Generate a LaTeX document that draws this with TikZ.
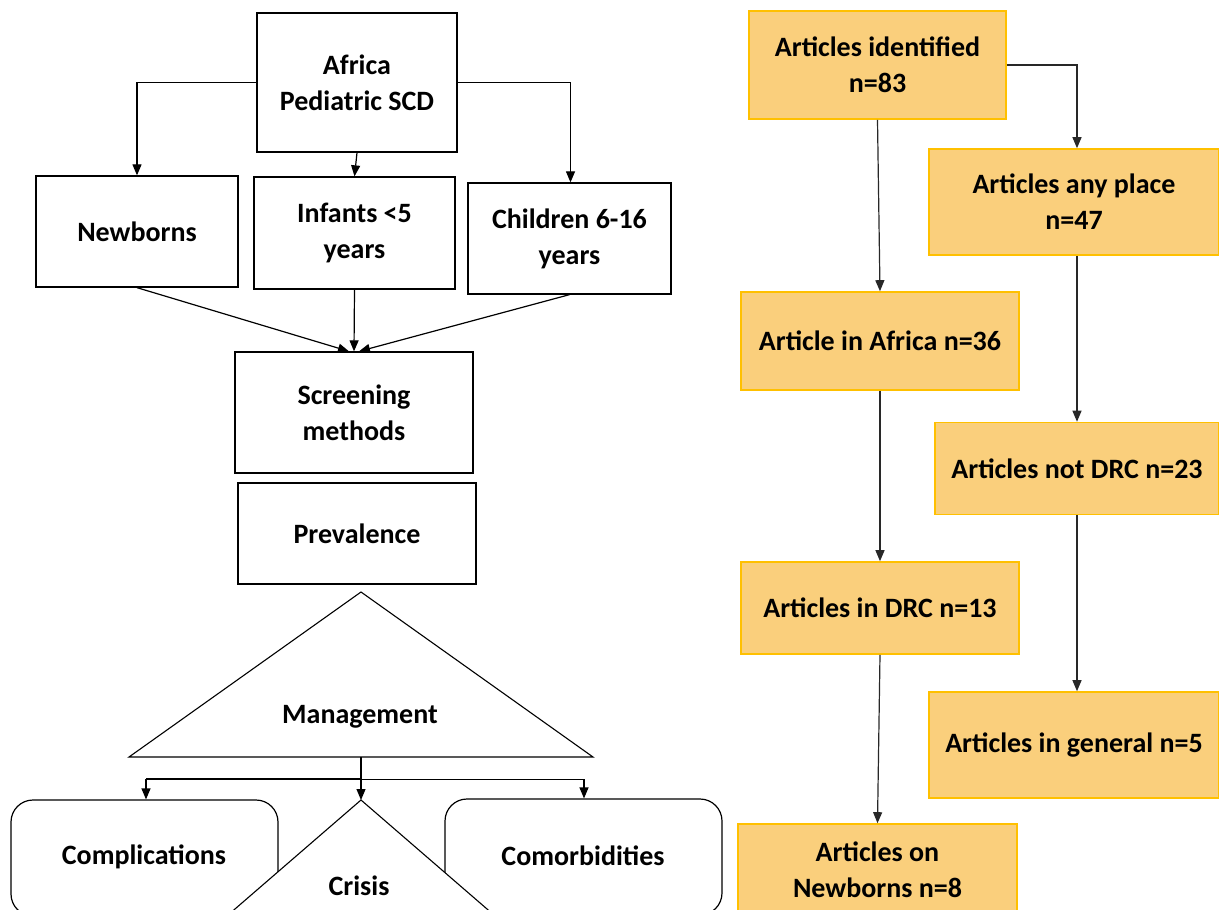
\documentclass[tikz,border=0pt]{standalone}
\usepackage{fontspec}
\setmainfont{Carlito}
\usetikzlibrary{arrows.meta}
\definecolor{boxfill}{RGB}{250,207,124}
\definecolor{boxline}{RGB}{255,192,0}
\definecolor{arrgray}{RGB}{40,40,40}
\begin{document}
\begin{tikzpicture}[x=1pt,y=-1pt,
  every node/.style={font=\fontsize{28}{36}\selectfont\bfseries, align=center, inner sep=0pt},
  wbox/.style={draw=black, line width=1.3pt, fill=white},
  rbox/.style={draw=black, line width=1.2pt, fill=white, rounded corners=22pt},
  obox/.style={draw=boxline, line width=1.6pt, fill=boxfill},
  arr/.style={line width=1.2pt, -{Triangle[length=11pt,width=9pt]}},
  garr/.style={arr, draw=arrgray},
]
\useasboundingbox (0,0) rectangle (1219,910);
\clip (0,0) rectangle (1219,910);
\fill[white] (0,0) rectangle (1219,910);

% ---------- left diagram ----------
\node[wbox, minimum width=200pt, minimum height=139pt] (africa) at (357,82.5) {Africa\\Pediatric SCD};
\node[wbox, minimum width=202pt, minimum height=111pt] (newb) at (137,231.5) {Newborns};
\node[wbox, minimum width=201pt, minimum height=112pt] (inf) at (354.5,233) {Infants <5\\years};
\node[wbox, minimum width=203pt, minimum height=111pt] (child) at (569.5,238.5) {Children 6-16\\years};
\node[wbox, minimum width=238pt, minimum height=121pt] (screen) at (354,412.5) {Screening\\methods};
\node[wbox, minimum width=238pt, minimum height=101pt] (prev) at (357,533.5) {Prevalence};

\coordinate (mA) at (361,592);
\coordinate (mL) at (129,757);
\coordinate (mR) at (593,757);
\draw[line width=1.1pt, fill=white, line join=miter] (mA) -- (mL) -- (mR) -- cycle;
\node (mgmt) at (360,717) {Management};

\node[rbox, minimum width=267pt, minimum height=116pt] (compl) at (144.5,858) {};
\node[rbox, minimum width=277pt, minimum height=116pt] (comor) at (583.5,857) {};
\node at (144,857) {Complications};
\node at (583,856) {Comorbidities};

\coordinate (cA) at (361,800);
\coordinate (cL) at (176,960);
\coordinate (cR) at (546,960);
\draw[line width=1.1pt, fill=white] (cL) -- (cA) -- (cR);
\node (crisis) at (359,886) {Crisis};

% connectors left
\coordinate (jB) at (361,757);
\coordinate (jM) at (361,779);
\coordinate (jL) at (146,779);
\coordinate (jR) at (584,779);
\draw[line width=1.8pt] (jB) -- (jM);
\draw[line width=1.6pt] (jL) -- (jM);
\draw[line width=1.0pt] (jM) -- (jR);
\draw[arr] (jL) -- (jL |- compl.north);
\draw[arr] (jM) -- (cA);
\draw[arr] (jR) -- (jR |- comor.north);

\draw[arr] (africa.west) -| (newb.north);
\draw[arr] (africa.east) -| ([xshift=1pt]child.north);
\draw[arr] (africa.south) -- (inf.north);
\draw[arr] (newb.south) -- ([xshift=-5pt]screen.north);
\draw[arr] (inf.south) -- (screen.north);
\draw[arr] (child.south) -- ([xshift=5pt]screen.north);

% ---------- right diagram ----------
\node[obox, minimum width=257pt, minimum height=108pt] (ident) at (877.5,65) {Articles identified\\n=83};
\node[obox, minimum width=290pt, minimum height=106pt] (any) at (1074,202) {Articles any place\\n=47};
\node[obox, minimum width=278pt, minimum height=98pt] (rafr) at (880,341) {Article in Africa n=36};
\node[obox, minimum width=284pt, minimum height=92pt] (notdrc) at (1077,468.5) {Articles not DRC n=23};
\node[obox, minimum width=278pt, minimum height=92pt] (drc) at (880,608) {Articles in DRC n=13};
\node[obox, minimum width=290pt, minimum height=106pt] (gen) at (1074,745) {Articles in general n=5};
\node[obox, minimum width=279pt, minimum height=92pt] (rnewb) at (877.5,870) {Articles on\\Newborns n=8};

\draw[garr] (ident.south) -- (rafr.north);
\draw[garr] (ident.east) -| ([xshift=3pt]any.north);
\draw[garr] ([xshift=3pt]any.south) -- ([xshift=0pt]notdrc.north);
\draw[garr] (rafr.south) -- (drc.north);
\draw[garr] (notdrc.south) -- ([xshift=3pt]gen.north);
\draw[garr] (drc.south) -- (rnewb.north);
\end{tikzpicture}
\end{document}
